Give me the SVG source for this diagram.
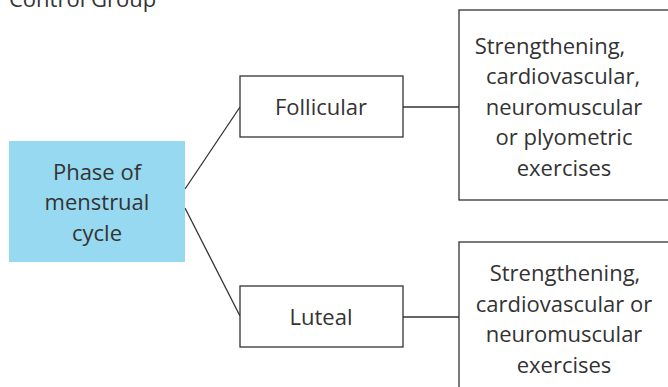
<svg xmlns="http://www.w3.org/2000/svg" width="668" height="387" viewBox="0 0 668 387">
<style>
text{font-family:"Open Sans","Noto Sans","Liberation Sans",sans-serif;font-size:22px;fill:#333;text-anchor:middle}
.box{fill:#fff;stroke:#333;stroke-width:1.3}
.conn{stroke:#333;stroke-width:1.3;fill:none}
</style>
<rect width="668" height="387" fill="#fff"/>
<text x="9" y="7" style="text-anchor:start">Control Group</text>
<g id="connectors">
<line class="conn" x1="185" y1="189" x2="240" y2="107"/>
<line class="conn" x1="185" y1="208" x2="240" y2="316"/>
<line class="conn" x1="403" y1="107" x2="459" y2="107"/>
<line class="conn" x1="403" y1="317" x2="459" y2="317"/>
</g>
<g id="phase">
<rect x="9" y="141" width="176" height="121" fill="#97d9f1"/>
<text x="97" y="180">Phase of</text>
<text x="97" y="210">menstrual</text>
<text x="97" y="241">cycle</text>
</g>
<g id="follicular">
<rect class="box" x="240" y="76" width="163" height="61"/>
<text x="321" y="115">Follicular</text>
</g>
<g id="luteal">
<rect class="box" x="240" y="286" width="163" height="61"/>
<text x="321" y="325">Luteal</text>
</g>
<g id="follicular-ex">
<rect class="box" x="459" y="10" width="220" height="190"/>
<text x="550" y="54">Strengthening,</text>
<text x="563" y="84">cardiovascular,</text>
<text x="564" y="115">neuromuscular</text>
<text x="564" y="145">or plyometric</text>
<text x="564" y="176">exercises</text>
</g>
<g id="luteal-ex">
<rect class="box" x="459" y="242" width="220" height="160"/>
<text x="565" y="281">Strengthening,</text>
<text x="564" y="312">cardiovascular or</text>
<text x="564" y="342">neuromuscular</text>
<text x="564" y="373">exercises</text>
</g>
</svg>
